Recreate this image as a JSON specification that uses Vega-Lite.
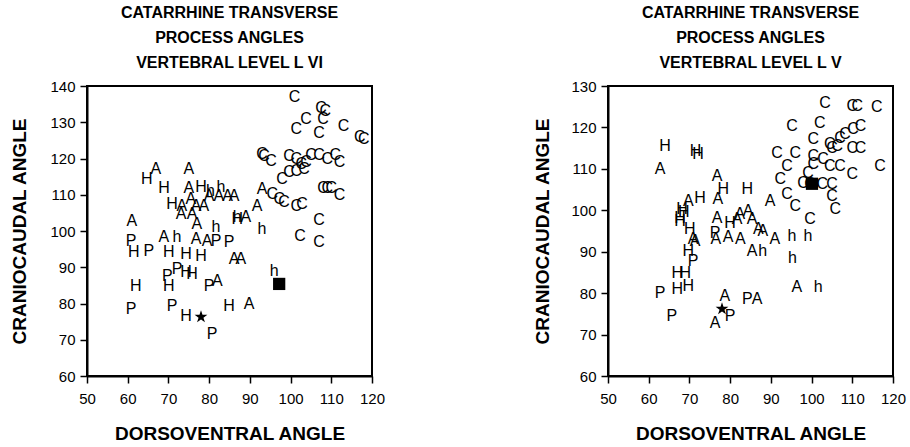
{
"$schema": "https://vega.github.io/schema/vega-lite/v6.json",
"background": "white",
"padding": {"left": 9, "top": 4, "right": 5, "bottom": 2},
"spacing": 146,
"config": {
  "font": "Liberation Sans",
  "view": {"stroke": "black", "strokeWidth": 2},
  "axis": {"grid": false, "domainColor": "black", "domainWidth": 2, "tickColor": "black", "tickWidth": 1.5, "tickSize": 7,
    "labelFont": "Liberation Sans", "labelFontSize": 15, "labelColor": "black", "labelFlush": false, "labelOverlap": false,
    "titleFont": "Liberation Sans", "titleFontSize": 19, "titleFontWeight": "bold", "titleColor": "black"},
  "title": {"font": "Liberation Sans", "fontSize": 16, "fontWeight": "bold", "lineHeight": 25, "color": "black", "anchor": "middle"}
},
"datasets": {
  "l6": [
    {"x":66.9,"y":117,"s":"A"},{"x":61,"y":102.8,"s":"A"},{"x":68.9,"y":98.3,"s":"A"},{"x":75,"y":117,"s":"A"},{"x":75,"y":112,"s":"A"},
    {"x":86.1,"y":109.7,"s":"A"},{"x":84.5,"y":109.7,"s":"A"},{"x":82.4,"y":109.7,"s":"A"},{"x":80,"y":109.7,"s":"A"},{"x":75.5,"y":108.8,"s":"A"},
    {"x":76.8,"y":106.9,"s":"A"},{"x":78.7,"y":106.9,"s":"A"},{"x":73.1,"y":104.7,"s":"A"},{"x":75.8,"y":104.7,"s":"A"},{"x":77,"y":101.9,"s":"A"},
    {"x":89,"y":103.9,"s":"A"},{"x":93,"y":111.6,"s":"A"},{"x":91.8,"y":106.9,"s":"A"},{"x":76.8,"y":97.8,"s":"A"},{"x":79.5,"y":97.2,"s":"A"},
    {"x":86.1,"y":92.3,"s":"A"},{"x":87.8,"y":92.3,"s":"A"},{"x":82,"y":86.2,"s":"A"},{"x":89.8,"y":79.9,"s":"A"},{"x":73.3,"y":107,"s":"A"},
    {"x":64.7,"y":114.3,"s":"H"},{"x":68.9,"y":112,"s":"H"},{"x":70.9,"y":107.4,"s":"H"},{"x":78,"y":112.1,"s":"H"},{"x":86.9,"y":103.3,"s":"H"},
    {"x":61.5,"y":94.2,"s":"H"},{"x":70.1,"y":94.2,"s":"H"},{"x":62,"y":84.8,"s":"H"},{"x":74.3,"y":93.7,"s":"H"},{"x":78,"y":93.1,"s":"H"},
    {"x":74.3,"y":88.7,"s":"H"},{"x":75.8,"y":88.1,"s":"H"},{"x":70.1,"y":84.8,"s":"H"},{"x":84.9,"y":79.3,"s":"H"},{"x":74.3,"y":76.6,"s":"H"},
    {"x":60.8,"y":97.2,"s":"P"},{"x":65.2,"y":94.5,"s":"P"},{"x":60.8,"y":78.5,"s":"P"},{"x":70.9,"y":79.3,"s":"P"},{"x":72.1,"y":89.5,"s":"P"},
    {"x":69.7,"y":87.6,"s":"P"},{"x":80,"y":84.8,"s":"P"},{"x":84.9,"y":97,"s":"P"},{"x":81.7,"y":97.2,"s":"P"},{"x":80.7,"y":71.6,"s":"P"},
    {"x":72.1,"y":98.3,"s":"h"},{"x":82.9,"y":112.1,"s":"h"},{"x":80.3,"y":111,"s":"h"},{"x":86.9,"y":103.9,"s":"h"},{"x":93,"y":100.5,"s":"h"},
    {"x":81.7,"y":101.1,"s":"h"},{"x":96,"y":89,"s":"h"},
    {"x":101,"y":137,"s":"C"},{"x":101.4,"y":128.1,"s":"C"},{"x":103.8,"y":130.9,"s":"C"},{"x":93.5,"y":120.7,"s":"C"},{"x":93,"y":121.2,"s":"C"},
    {"x":95.2,"y":119.3,"s":"C"},{"x":99.6,"y":120.7,"s":"C"},{"x":101.4,"y":119.9,"s":"C"},{"x":102.6,"y":118.5,"s":"C"},{"x":103.8,"y":119,"s":"C"},
    {"x":97.9,"y":114.3,"s":"C"},{"x":99.6,"y":116.3,"s":"C"},{"x":101.4,"y":116.5,"s":"C"},{"x":103.3,"y":117,"s":"C"},{"x":95.5,"y":110.2,"s":"C"},
    {"x":97.2,"y":108.8,"s":"C"},{"x":98.4,"y":108,"s":"C"},{"x":101.4,"y":106.9,"s":"C"},{"x":102.8,"y":107.4,"s":"C"},
    {"x":107.5,"y":134,"s":"C"},{"x":108.5,"y":133,"s":"C"},{"x":108,"y":131,"s":"C"},{"x":113,"y":129,"s":"C"},{"x":117,"y":126,"s":"C"},
    {"x":118,"y":125.5,"s":"C"},{"x":107,"y":127,"s":"C"},{"x":105,"y":121,"s":"C"},{"x":107,"y":121,"s":"C"},{"x":109,"y":120,"s":"C"},
    {"x":111,"y":121,"s":"C"},{"x":112,"y":119,"s":"C"},{"x":108,"y":112,"s":"C"},{"x":109,"y":112,"s":"C"},{"x":110,"y":112,"s":"C"},
    {"x":112,"y":110,"s":"C"},{"x":107,"y":103,"s":"C"},{"x":107,"y":97,"s":"C"},{"x":102.3,"y":98.6,"s":"C"},
    {"x":78,"y":76.3,"s":"star"},{"x":97.2,"y":85.4,"s":"sq"}
  ],
  "l5": [
    {"x":103.3,"y":126,"s":"C"},{"x":110,"y":125.2,"s":"C"},{"x":111.2,"y":125.2,"s":"C"},{"x":116,"y":125,"s":"C"},{"x":95.2,"y":120.4,"s":"C"},
    {"x":102,"y":121,"s":"C"},{"x":112,"y":120.4,"s":"C"},{"x":110.2,"y":119.6,"s":"C"},{"x":108.2,"y":118.4,"s":"C"},{"x":107,"y":117.5,"s":"C"},
    {"x":100.4,"y":117.2,"s":"C"},{"x":104.5,"y":116,"s":"C"},{"x":106.3,"y":115.6,"s":"C"},{"x":105,"y":115,"s":"C"},{"x":110,"y":115,"s":"C"},
    {"x":112,"y":115,"s":"C"},{"x":91.5,"y":113.9,"s":"C"},{"x":96,"y":113.9,"s":"C"},{"x":100.4,"y":113.2,"s":"C"},{"x":102.8,"y":112.4,"s":"C"},
    {"x":100.4,"y":111.2,"s":"C"},{"x":94,"y":110.7,"s":"C"},{"x":104.5,"y":110.7,"s":"C"},{"x":107,"y":110.7,"s":"C"},{"x":110,"y":108.8,"s":"C"},
    {"x":116.8,"y":110.7,"s":"C"},{"x":92.3,"y":107.6,"s":"C"},{"x":97.9,"y":106.6,"s":"C"},{"x":99.6,"y":106.3,"s":"C"},{"x":102.6,"y":106.3,"s":"C"},
    {"x":105,"y":106.3,"s":"C"},{"x":105,"y":103.5,"s":"C"},{"x":105.8,"y":100.3,"s":"C"},{"x":94,"y":104,"s":"C"},{"x":96,"y":101,"s":"C"},
    {"x":99.6,"y":97.9,"s":"C"},{"x":99.1,"y":109,"s":"C"},
    {"x":62.8,"y":110,"s":"A"},{"x":76.8,"y":108.3,"s":"A"},{"x":77,"y":102.8,"s":"A"},{"x":69.7,"y":102.3,"s":"A"},{"x":89.8,"y":102.3,"s":"A"},
    {"x":76.8,"y":98.2,"s":"A"},{"x":82.4,"y":99,"s":"A"},{"x":84.4,"y":99.8,"s":"A"},{"x":81.7,"y":98,"s":"A"},{"x":85.4,"y":98,"s":"A"},
    {"x":86.9,"y":95.5,"s":"A"},{"x":88,"y":95,"s":"A"},{"x":91,"y":93,"s":"A"},{"x":70.9,"y":93,"s":"A"},{"x":76.5,"y":93,"s":"A"},
    {"x":79.5,"y":93.5,"s":"A"},{"x":82.5,"y":93,"s":"A"},{"x":85.4,"y":90.2,"s":"A"},{"x":71.4,"y":92.6,"s":"A"},{"x":76.3,"y":72.8,"s":"A"},
    {"x":78.7,"y":79.3,"s":"A"},{"x":84.2,"y":78.5,"s":"P"},{"x":86.6,"y":78.5,"s":"A"},{"x":96.4,"y":81.5,"s":"A"},
    {"x":64,"y":115.6,"s":"H"},{"x":72.1,"y":113.6,"s":"H"},{"x":71.5,"y":114.3,"s":"H"},{"x":78.3,"y":105.2,"s":"H"},{"x":84.2,"y":105.2,"s":"H"},
    {"x":72.6,"y":103,"s":"H"},{"x":68.2,"y":100.3,"s":"H"},{"x":68.6,"y":99.6,"s":"H"},{"x":67.7,"y":98.2,"s":"H"},{"x":67.7,"y":97.3,"s":"H"},
    {"x":80,"y":97,"s":"H"},{"x":70.1,"y":95.5,"s":"H"},{"x":69.7,"y":90.2,"s":"H"},{"x":67,"y":84.9,"s":"H"},{"x":69,"y":84.9,"s":"H"},
    {"x":67,"y":81,"s":"H"},{"x":69.7,"y":81.7,"s":"H"},
    {"x":62.8,"y":80,"s":"P"},{"x":65.7,"y":74.5,"s":"P"},{"x":70.9,"y":87.8,"s":"P"},{"x":80,"y":74.5,"s":"P"},{"x":76.3,"y":94.4,"s":"P"},
    {"x":95.2,"y":93.8,"s":"h"},{"x":99.1,"y":93.8,"s":"h"},{"x":88,"y":90.2,"s":"h"},{"x":95.3,"y":88.5,"s":"h"},{"x":101.6,"y":81.5,"s":"h"},
    {"x":78,"y":76.2,"s":"star"},{"x":100.1,"y":106.4,"s":"sq"}
  ]
},
"hconcat": [
  {
    "width": 285, "height": 290,
    "title": {"text": ["CATARRHINE TRANSVERSE", "PROCESS ANGLES", "VERTEBRAL LEVEL L VI"], "offset": 8},
    "data": {"name": "l6"},
    "encoding": {
      "x": {"field": "x", "type": "quantitative", "scale": {"domain": [50, 120], "nice": false, "zero": false},
        "axis": {"values": [50,60,70,80,90,100,110,120], "title": "DORSOVENTRAL ANGLE", "labelPadding": 8, "titlePadding": 18}},
      "y": {"field": "y", "type": "quantitative", "scale": {"domain": [60, 140], "nice": false, "zero": false},
        "axis": {"values": [60,70,80,90,100,110,120,130,140], "title": "CRANIOCAUDAL ANGLE", "labelPadding": 5, "titleX": -68, "titleY": 145, "titleAngle": -90, "titleBaseline": "middle", "titleAlign": "center"}}
    },
    "layer": [
      {"transform": [{"filter": "datum.s != 'star' && datum.s != 'sq'"}], "mark": {"type": "text", "fontSize": 16, "font": "Liberation Sans", "color": "black"}, "encoding": {"text": {"field": "s"}}},
      {"transform": [{"filter": "datum.s == 'star'"}], "mark": {"type": "point", "filled": true, "color": "black", "opacity": 1, "size": 180, "shape": "M0,-1L0.2245,-0.309L0.951,-0.309L0.363,0.118L0.588,0.809L0,0.382L-0.588,0.809L-0.363,0.118L-0.951,-0.309L-0.2245,-0.309Z"}},
      {"transform": [{"filter": "datum.s == 'sq'"}], "mark": {"type": "square", "color": "black", "opacity": 1, "size": 150}}
    ]
  },
  {
    "width": 285, "height": 290,
    "title": {"text": ["CATARRHINE TRANSVERSE", "PROCESS ANGLES", "VERTEBRAL LEVEL L V"], "offset": 8},
    "data": {"name": "l5"},
    "encoding": {
      "x": {"field": "x", "type": "quantitative", "scale": {"domain": [50, 120], "nice": false, "zero": false},
        "axis": {"values": [50,60,70,80,90,100,110,120], "title": "DORSOVENTRAL ANGLE", "labelPadding": 8, "titlePadding": 18}},
      "y": {"field": "y", "type": "quantitative", "scale": {"domain": [60, 130], "nice": false, "zero": false},
        "axis": {"values": [60,70,80,90,100,110,120,130], "title": "CRANIOCAUDAL ANGLE", "labelPadding": 5, "titleX": -66, "titleY": 145, "titleAngle": -90, "titleBaseline": "middle", "titleAlign": "center"}}
    },
    "layer": [
      {"transform": [{"filter": "datum.s != 'star' && datum.s != 'sq'"}], "mark": {"type": "text", "fontSize": 16, "font": "Liberation Sans", "color": "black"}, "encoding": {"text": {"field": "s"}}},
      {"transform": [{"filter": "datum.s == 'star'"}], "mark": {"type": "point", "filled": true, "color": "black", "opacity": 1, "size": 180, "shape": "M0,-1L0.2245,-0.309L0.951,-0.309L0.363,0.118L0.588,0.809L0,0.382L-0.588,0.809L-0.363,0.118L-0.951,-0.309L-0.2245,-0.309Z"}},
      {"transform": [{"filter": "datum.s == 'sq'"}], "mark": {"type": "square", "color": "black", "opacity": 1, "size": 150}}
    ]
  }
]
}
